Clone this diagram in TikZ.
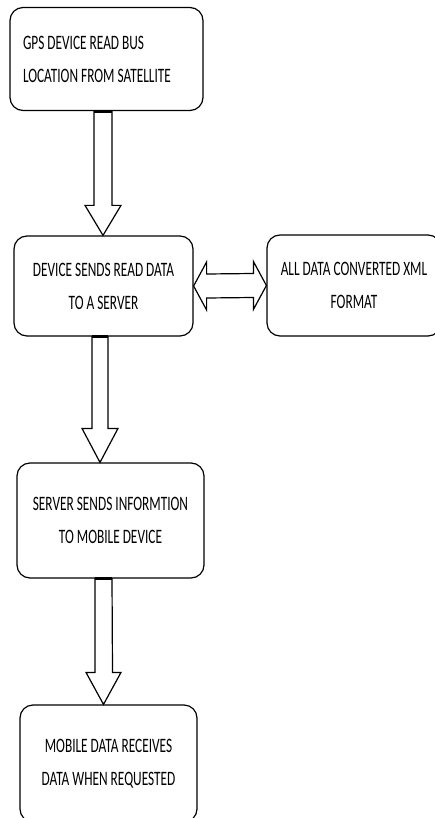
\documentclass[tikz,border=0pt]{standalone}
\usepackage{fontspec}
\setmainfont{Carlito}[FakeStretch=0.65]
\usetikzlibrary{calc, positioning}

\begin{document}
\begin{tikzpicture}[x=1pt, y=1pt,
    stepbox/.style={draw=black, line width=1.2pt, rounded corners=13pt, fill=white,
        font=\fontsize{20.5}{33}\selectfont, align=center, inner sep=0pt},
    blockarrow/.style={draw=black, line width=1.2pt, fill=white, line join=miter},
    shaftcap/.style={line width=3pt, draw=black}]
    \clip (0,0) rectangle (435,-818);

    % flow boxes
    \node[stepbox, minimum width=193pt, minimum height=103pt, text width=167pt, align=flush left]
        (gps) at (106.5,-59) {GPS DEVICE READ BUS\\LOCATION FROM SATELLITE};
    \node[stepbox, minimum width=179pt, minimum height=100pt] (send) at (103.5,-286)
        {DEVICE SENDS READ DATA\\TO A SERVER};
    \node[stepbox, minimum width=174pt, minimum height=101pt] (xml) at (354,-285.5)
        {ALL DATA CONVERTED XML\\FORMAT};
    \node[stepbox, minimum width=187pt, minimum height=115pt] (server) at (110.5,-520.5)
        {SERVER SENDS INFORMTION\\TO MOBILE DEVICE};
    \node[stepbox, minimum width=177pt, minimum height=117pt] (mobile) at (108.5,-763.5)
        {MOBILE DATA RECEIVES\\DATA WHEN REQUESTED};

    % hollow arrows going down
    \coordinate (t1) at ($(gps.south)+(-3.5,0)$);
    \draw[blockarrow] ($(t1)+(-9,0)$) -- ($(t1 |- send.north)+(-9,30)$) -- ++(-9,0)
        -- (t1 |- send.north) -- ++(18,30) -- ++(-9,0) -- ($(t1)+(9,0)$) -- cycle;
    \draw[shaftcap] ($(t1)+(-9,0)$) -- ($(t1)+(9,0)$);

    \coordinate (t2) at ($(send.south)+(-3.5,0)$);
    \draw[blockarrow] ($(t2)+(-8,0)$) -- ($(t2 |- server.north)+(-8,34)$) -- ++(-10,0)
        -- (t2 |- server.north) -- ++(18,34) -- ++(-10,0) -- ($(t2)+(8,0)$) -- cycle;
    \draw[shaftcap] ($(t2)+(-8,0)$) -- ($(t2)+(8,0)$);

    \coordinate (t3) at ($(server.south)+(-7,0)$);
    \draw[blockarrow] ($(t3)+(-8.5,0)$) -- ($(t3 |- mobile.north)+(-8.5,32)$) -- ++(-9,0)
        -- (t3 |- mobile.north) -- ++(17.5,32) -- ++(-8.5,0) -- ($(t3)+(8.5,0)$) -- cycle;
    \draw[shaftcap] ($(t3)+(-8.5,0)$) -- ($(t3)+(8.5,0)$);

    % two-way arrow to the XML box
    \draw[blockarrow] (send.east) -- ++(13,24) -- ++(0,-12) -- ($(xml.west)+(-13,12)$)
        -- ++(0,12) -- (xml.west) -- ++(-13,-24) -- ++(0,12) -- ($(send.east)+(13,-12)$)
        -- ++(0,-12) -- cycle;
\end{tikzpicture}
\end{document}
